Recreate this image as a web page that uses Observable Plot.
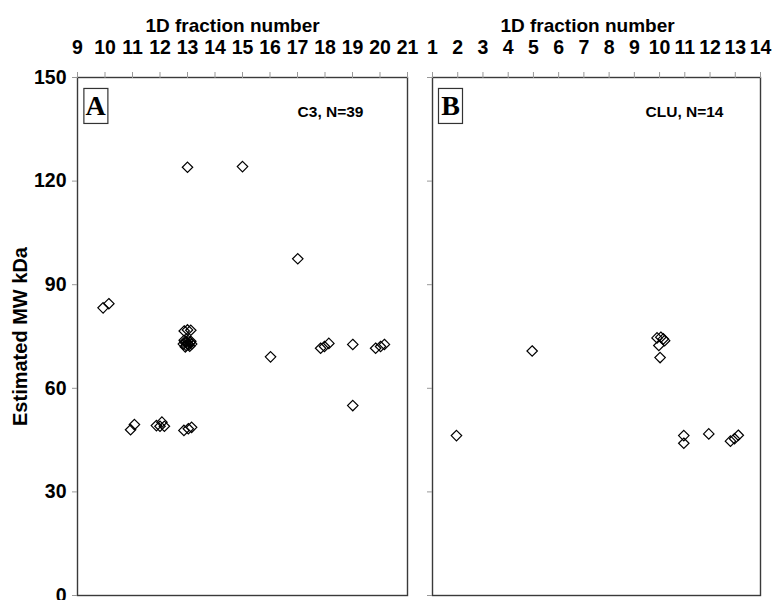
<!DOCTYPE html>
<html><head><meta charset="utf-8">
<script src="https://cdn.jsdelivr.net/npm/d3@7"></script>
<script src="https://cdn.jsdelivr.net/npm/@observablehq/plot@0.6"></script>
<style>
body{margin:0;background:#fff;}
#chart{display:flex;width:773px;height:600px;overflow:hidden;}
#chart svg{font-family:"Liberation Sans",Arial,sans-serif;overflow:visible;}
</style></head><body><div id="chart"></div>
<script>
// Panel A: C3
const fracA = [13, 15, 9.93, 10.14, 10.93, 11.07, 11.87, 12.0, 12.07, 12.16, 12.87, 13.03, 13.15,
  12.88, 13.0, 13.12,
  12.85, 12.9, 12.95, 13.0, 13.05, 13.1, 13.15, 12.92, 13.02, 13.08, 12.97, 13.12, 12.88,
  16.02, 17.01, 17.84, 17.98, 18.14, 19.01, 19.01, 19.84, 20.02, 20.16];
const mwA = [124.0, 124.2, 83.3, 84.5, 48.0, 49.5, 49.2, 49.0, 50.2, 49.0, 47.8, 48.3, 48.7,
  76.6, 76.9, 76.8,
  72.8, 73.4, 72.4, 73.0, 72.6, 73.3, 72.8, 72.0, 73.8, 72.2, 73.5, 73.6, 73.9,
  69.1, 97.5, 71.6, 72.1, 73.0, 72.7, 55.0, 71.6, 72.1, 72.7];
// Panel B: CLU
const fracB = [1.95, 4.95, 9.9, 10.05, 10.15, 10.2, 9.97, 10.02, 10.96, 10.96, 11.95, 12.81, 12.97, 13.12];
const mwB = [46.3, 70.8, 74.6, 74.8, 74.3, 73.8, 72.4, 68.9, 46.3, 44.1, 46.8, 44.7, 45.4, 46.4];

const xTicksA = [9,10,11,12,13,14,15,16,17,18,19,20,21];
const xTicksB = [1,2,3,4,5,6,7,8,9,10,11,12,13,14];
const yTicks = [0,30,60,90,120,150];
const xTitle = "1D fraction number";
const yTitle = "Estimated MW kDa";
const panelLabels = ["A","B"];
const notes = ["C3, N=39","CLU, N=14"];

const dataA = fracA.map((f,i)=>({frac:f, mw:mwA[i]}));
const dataB = fracB.map((f,i)=>({frac:f, mw:mwB[i]}));

function panel({data, xDomain, xTicks, width, marginLeft, marginRight, showY, label, note, titleDx, noteDx}) {
  const marks = [
    Plot.frame({stroke:"#3a3a3a", strokeWidth:1.4}),
    Plot.axisX(xTicks, {anchor:"top", tickSize:6, tickPadding:18, stroke:"#999", fill:"black", label:null,
      fontSize:19.5, fontWeight:"bold"}),
    Plot.axisY(yTicks, {anchor:"left", tickSize:5, tickPadding:6, stroke:"#999", fill:"black", label:null,
      fontSize:19.5, fontWeight:"bold", tickFormat: showY ? d=>d : ()=>""}),
    Plot.text([xTitle], {frameAnchor:"top", text:d=>d, dx:titleDx, dy:-46, lineAnchor:"bottom",
      fontSize:19, fontWeight:"bold", fill:"black"}),
    Plot.text([label], {frameAnchor:"top-left", text:d=>d, textAnchor:"middle", lineAnchor:"middle",
      dx:18, dy:29, fontFamily:"Liberation Serif, Times New Roman, serif", fontSize:28, fontWeight:"bold", fill:"black",
      className:"plabel"}),
    Plot.text([note], {frameAnchor:"top-right", text:d=>d, textAnchor:"end", lineAnchor:"bottom",
      dx:noteDx, dy:39, fontSize:15.5, fontWeight:"bold", fill:"black"}),
    Plot.dot(data, {x:"frac", y:"mw", symbol:"diamond2", r:4.7, stroke:"black", strokeWidth:1.2, fill:"none"})
  ];
  if (showY) marks.push(Plot.text([yTitle], {frameAnchor:"left", text:d=>d, rotate:-90, dx:-57,
      textAnchor:"middle", lineAnchor:"middle", fontSize:20, fontWeight:"bold", fill:"black"}));
  return Plot.plot({
    width, height:600, marginLeft, marginRight, marginTop:77, marginBottom:5,
    x:{domain:xDomain}, y:{domain:[0,150]},
    style:{fontFamily:"Liberation Sans, Arial, sans-serif", color:"black", background:"white", overflow:"visible"},
    marks
  });
}

const chart = document.getElementById("chart");
const pA = panel({data:dataA, xDomain:[9,21], xTicks:xTicksA, width:420, marginLeft:77, marginRight:13,
  showY:true, label:panelLabels[0], note:notes[0], titleDx:-10, noteDx:-44});
const pB = panel({data:dataB, xDomain:[1,14], xTicks:xTicksB, width:353, marginLeft:12, marginRight:13,
  showY:false, label:panelLabels[1], note:notes[1], titleDx:-9, noteDx:-37});
chart.append(pA, pB);

// draw a box around each panel letter
for (const svg of [pA, pB]) {
  svg.querySelectorAll(".plabel text").forEach(t => {
    const b = t.getBBox();
    const g = t.parentNode;
    const cx = b.x + b.width/2, cy = b.y + b.height/2;
    const r = document.createElementNS("http://www.w3.org/2000/svg","rect");
    r.setAttribute("x", cx - 12); r.setAttribute("y", cy - 17.5);
    r.setAttribute("width", 24); r.setAttribute("height", 35);
    r.setAttribute("fill","none"); r.setAttribute("stroke","#333"); r.setAttribute("stroke-width","1.2");
    if (t.getAttribute("transform")) r.setAttribute("transform", t.getAttribute("transform"));
    g.insertBefore(r, t);
  });
}
</script></body></html>
